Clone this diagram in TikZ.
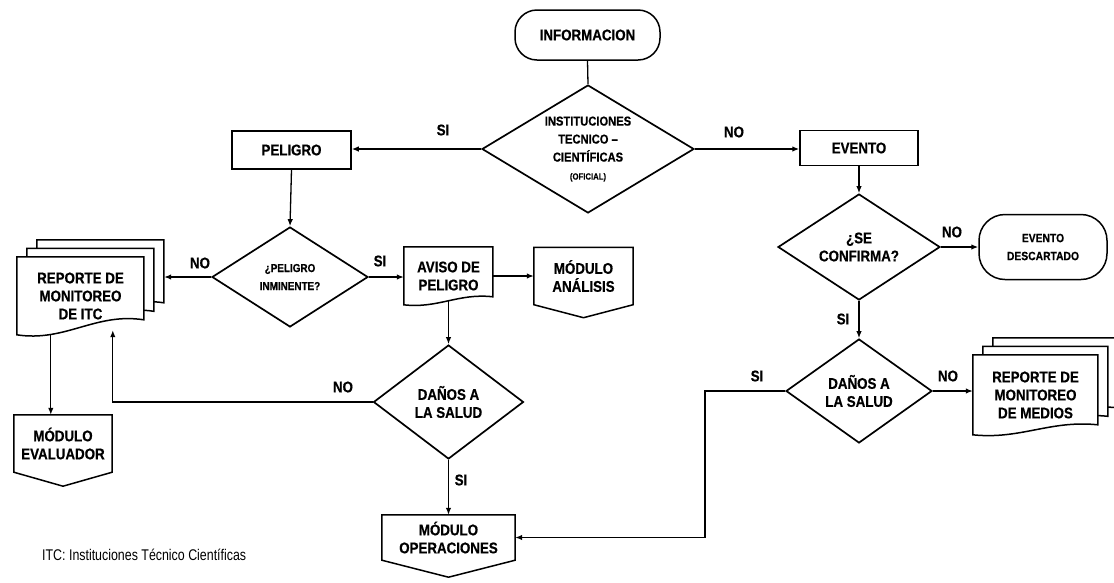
\documentclass[tikz,border=0pt]{standalone}
\usepackage{fontspec}
\setmainfont{Liberation Sans}
\newfontfamily\bnar{Liberation Sans}[FakeStretch=0.86,BoldFeatures={FakeBold=0.6}]
\newfontfamily\rnar{Liberation Sans}[FakeStretch=0.8]
\usetikzlibrary{shapes.geometric,arrows.meta,calc}
\pgfdeclarelayer{bg}
\pgfsetlayers{bg,main}
% document shape: #1 node, #2 width, #3 left height, #4 drop of right side
\newcommand\docsh[4]{\draw[shapeline,fill=white,shift={(#1.north west)}] (0,0) -- (#2,0) -- (#2,#3-#4) .. controls (0.62*#2,#3-1.5*#4) and (0.38*#2,#3+0.5*#4) .. (0,#3) -- cycle;}
% off-page shape: #1 node, #2 depth of point
\newcommand\offsh[2]{\draw[shapeline] (#1.north west) -- (#1.north east) -- (#1.south east) -- ([yshift=-#2pt]#1.south) -- (#1.south west) -- cycle;}
\begin{document}
\begin{tikzpicture}[x=1pt,y=-1pt,
  txt/.style={font=\bnar\bfseries\fontsize{15.5}{18}\selectfont, align=center},
  box/.style={txt, draw, line width=1.5pt, rectangle, inner sep=0},
  term/.style={txt, draw, line width=1.5pt, rectangle, rounded corners=22pt, inner sep=0},
  dia/.style={txt, draw, line width=1.7pt, diamond, inner sep=0, aspect=1.6},
  plain/.style={txt, inner sep=0},
  lab/.style={font=\bnar\bfseries\fontsize{15.5}{18}\selectfont, inner sep=0},
  arr/.style={line width=1.3pt, -{Latex[length=7pt,width=5.5pt]}},
  con/.style={line width=1.3pt},
  shapeline/.style={line width=1.5pt, line join=miter}]
\useasboundingbox (0,0) rectangle (1114,582);

% ---------- nodes ----------
\node[term, minimum width=145, minimum height=50] (info) at (587.5,35) {INFORMACION};
\node[dia, minimum width=212, minimum height=128] (inst) at (588,149)
  {\fontsize{13}{17}\selectfont INSTITUCIONES\\\fontsize{13}{17}\selectfont TECNICO –\\\fontsize{13}{17}\selectfont CIENTÍFICAS\\\fontsize{9}{14}\selectfont (OFICIAL)};
\node[box, minimum width=119, minimum height=38] (pel) at (291.5,150) {PELIGRO};
\node[box, minimum width=118, minimum height=35] (evt) at (859,148) {EVENTO};

\node[dia, minimum width=156, minimum height=100] (pi) at (290,277)
  {\fontsize{11.5}{16}\selectfont ¿PELIGRO\\\fontsize{11.5}{16}\selectfont INMINENTE?};
\node[plain, minimum width=89, minimum height=58] (aviso) at (448.5,276) {AVISO DE\\PELIGRO};
\node[plain, minimum width=99, minimum height=57] (analisis) at (583.5,276) {MÓDULO\\ANÁLISIS};

\node[plain, minimum width=127, minimum height=78] (rep1) at (80.5,296) {REPORTE DE\\MONITOREO\\DE ITC};
\node[inner sep=0, minimum width=127, minimum height=78] (rep1b) at (90.5,287.5) {};
\node[inner sep=0, minimum width=127, minimum height=78] (rep1c) at (100.5,279) {};

\node[plain, minimum width=98, minimum height=57] (evalu) at (63,443.5) {MÓDULO\\EVALUADOR};
\node[dia, minimum width=150, minimum height=114] (ds1) at (448.5,402) {DAÑOS A\\LA SALUD};
\node[plain, minimum width=133, minimum height=45] (oper) at (448.5,537.5) {MÓDULO\\OPERACIONES};

\node[dia, minimum width=162, minimum height=106] (conf) at (859,247) {¿SE\\CONFIRMA?};
\node[term, rounded corners=26pt, minimum width=128, minimum height=65] (desc) at (1043,247)
  {\fontsize{12}{18}\selectfont EVENTO\\\fontsize{12}{18}\selectfont DESCARTADO};
\node[dia, minimum width=146, minimum height=104] (ds2) at (859,391) {DAÑOS A\\LA SALUD};

\node[plain, minimum width=125, minimum height=80] (rep2) at (1035.5,395) {REPORTE DE\\MONITOREO\\DE MEDIOS};
\node[inner sep=0, minimum width=125, minimum height=80] (rep2b) at (1045.5,386.5) {};
\node[inner sep=0, minimum width=125, minimum height=80] (rep2c) at (1055.5,378) {};

\coordinate (bendx) at (705,0);

\node[font=\rnar\fontsize{15.5}{18}\selectfont, anchor=west, inner sep=0] (foot) at (42,555)
  {ITC: Instituciones Técnico Científicas};

% ---------- shapes on background ----------
\begin{pgfonlayer}{bg}
  \docsh{rep1c}{127}{78}{15}
  \docsh{rep1b}{127}{78}{15}
  \docsh{rep1}{127}{78}{15}
  \docsh{aviso}{89}{58}{8}
  \docsh{rep2c}{125}{80}{10}
  \docsh{rep2b}{125}{80}{10}
  \docsh{rep2}{125}{80}{10}
\end{pgfonlayer}
\offsh{analisis}{13}
\offsh{evalu}{14}
\offsh{oper}{17}

% ---------- connectors ----------
\draw[con] (info.south) -- (inst.north);
\draw[arr] (inst.west) -- (inst.west -| pel.east);
\draw[arr] (inst.east) -- (inst.east -| evt.west);
\draw[arr] (pel.south) -- (pi.north);
\draw[arr] (pi.west) -- (pi.west -| rep1c.east);
\draw[arr] (pi.east) -- (pi.east -| aviso.west);
\draw[arr] (analisis.west -| aviso.east) -- (analisis.west);
\draw[arr] ([yshift=4pt]aviso.south) -- (ds1.north);
\draw[arr] (ds1.west) -| ([xshift=96pt,yshift=5pt]rep1.south west);
\draw[arr] (ds1.south) -- (oper.north);
\draw[arr] ([xshift=34pt]rep1.south west) -- ([xshift=34pt]rep1.south west |- evalu.north);
\draw[arr] (evt.south) -- (conf.north);
\draw[arr] (conf.east) -- (desc.west);
\draw[arr] (conf.south) -- (ds2.north);
\draw[arr] (ds2.east) -- (ds2.east -| rep2.west);
\draw[arr] (ds2.west) -- (ds2.west -| bendx) |- (oper.east);

% ---------- labels ----------
\node[lab] (l1) at (443,130) {SI};
\node[lab] (l2) at (734,132) {NO};
\node[lab] (l3) at (200,263) {NO};
\node[lab] (l4) at (380,261) {SI};
\node[lab] (l5) at (343,387) {NO};
\node[lab] (l6) at (461,480) {SI};
\node[lab] (l7) at (952,232) {NO};
\node[lab] (l8) at (843,319) {SI};
\node[lab] (l9) at (948,376) {NO};
\node[lab] (l10) at (757,376) {SI};
\end{tikzpicture}
\end{document}
